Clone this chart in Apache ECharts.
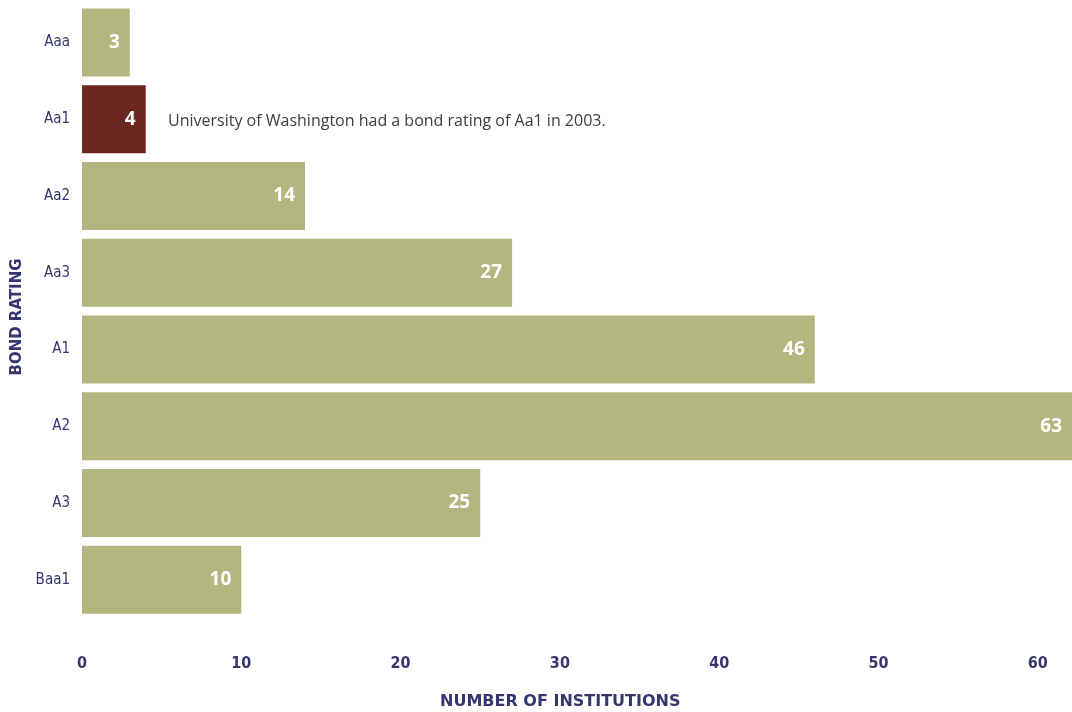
<!DOCTYPE html>
<html>
<head>
<meta charset="utf-8">
<script src="https://cdn.jsdelivr.net/npm/echarts@6/dist/echarts.min.js"></script>
<style>
  html, body { margin: 0; padding: 0; background: #fff; }
  #chart { width: 1072px; height: 712px; }
</style>
</head>
<body>
<div id="chart"></div>
<script>
// bond ratings, top to bottom
const ratings = ["Aaa", "Aa1", "Aa2", "Aa3", "A1", "A2", "A3", "Baa1"];
const institutions = [3, 4, 14, 27, 46, 63, 25, 10];
const highlightRating = "Aa1";
const note = "University of Washington had a bond rating of Aa1 in 2003.";

const NAVY = "#36366f";
const BAR = "#b3b67f";
const BAR_HI = "#6b2820";
const NARROW = "'DejaVu Sans Condensed', 'Liberation Sans Narrow', 'DejaVu Sans', sans-serif";

const chart = echarts.init(document.getElementById("chart"));

const seriesData = institutions.map((v, i) => ({
  value: v,
  itemStyle: { color: ratings[i] === highlightRating ? BAR_HI : BAR }
}));

chart.setOption({
  animation: false,
  grid: { left: 82, right: 0, top: 4, bottom: 94, containLabel: false, outerBoundsMode: "none" },
  xAxis: {
    type: "value",
    min: 0,
    max: 62.15,
    interval: 10,
    axisLine: { show: false },
    axisTick: { show: false },
    splitLine: { show: false },
    axisLabel: {
      showMaxLabel: false,
      margin: 38,
      color: NAVY,
      fontFamily: NARROW,
      fontWeight: "bold",
      fontSize: 16
    }
  },
  yAxis: {
    type: "category",
    data: ratings,
    inverse: true,
    axisLine: { show: false },
    axisTick: { show: false },
    axisLabel: {
      margin: 12,
      color: NAVY,
      fontFamily: NARROW,
      fontSize: 15
    },
    name: "BOND RATING",
    nameLocation: "middle",
    nameGap: 53,
    nameTextStyle: {
      color: NAVY,
      fontFamily: "DejaVu Sans",
      fontWeight: "bold",
      fontSize: 15,
      padding: [0, 12, 0, 0]
    }
  },
  series: [{
    type: "bar",
    data: seriesData,
    barWidth: 68,
    clip: true,
    label: {
      show: true,
      position: "insideRight",
      distance: 10,
      color: "#fff",
      fontFamily: "Open Sans",
      fontWeight: "bold",
      fontSize: 19
    }
  }],
  graphic: [
    {
      type: "text",
      left: 168,
      top: 113,
      style: {
        text: note,
        fill: "#3d3d3d",
        font: "16px 'Open Sans'"
      }
    },
    {
      type: "text",
      left: 440,
      top: 694,
      style: {
        text: "NUMBER OF INSTITUTIONS",
        fill: NAVY,
        font: "bold 16px 'DejaVu Sans'"
      }
    }
  ]
});
</script>
</body>
</html>
